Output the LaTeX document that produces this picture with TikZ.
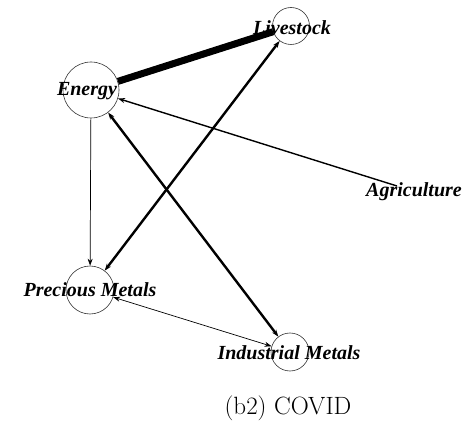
\documentclass[tikz,border=0pt]{standalone}
\usepackage{fontspec}
\newfontfamily\lblfont{Liberation Serif}
\usetikzlibrary{arrows.meta}
\begin{document}
\begin{tikzpicture}[x=1pt,y=-1pt,
  vtx/.style={circle,draw=black!80,line width=0.6pt,inner sep=0pt},
  lbl/.style={font=\lblfont\bfseries\itshape\fontsize{20}{20}\selectfont,inner sep=0pt},
  tip/.style={-{Stealth[length=7pt,width=5pt]}},
  dtip/.style={{Stealth[length=7pt,width=5pt]}-{Stealth[length=7pt,width=5pt]}},
  ]
\useasboundingbox (0,0) rectangle (469,433);
\node[vtx,minimum size=56pt] (en) at (91,90) {};
\node[vtx,minimum size=37pt] (li) at (291,26) {};
\node[vtx,minimum size=48pt] (pm) at (90,290) {};
\node[vtx,minimum size=38pt] (im) at (290,352) {};
\coordinate (ag) at (397,186);
\node[lbl] (enl) at (87,91) {Energy};
\node[lbl] (lil) at (292,28) {Livestock};
\node[lbl] (pml) at (90,290) {Precious Metals};
\node[lbl] (iml) at (289,353) {Industrial Metals};
\node[lbl] (agl) at (414,192) {Agriculture};
\node[font=\fontsize{25}{25}\selectfont] (cap) at (288,408) {(b2) COVID};
\draw[line width=7pt] (en) -- (li);
\draw[tip,line width=0.7pt] (en) -- (pm);
\draw[dtip,line width=2.4pt] (pm) -- (li);
\draw[dtip,line width=2.4pt] (en) -- (im);
\draw[tip,line width=1.4pt] (ag) -- (en);
\draw[dtip,line width=0.7pt] (pm) -- (im);
\end{tikzpicture}
\end{document}
